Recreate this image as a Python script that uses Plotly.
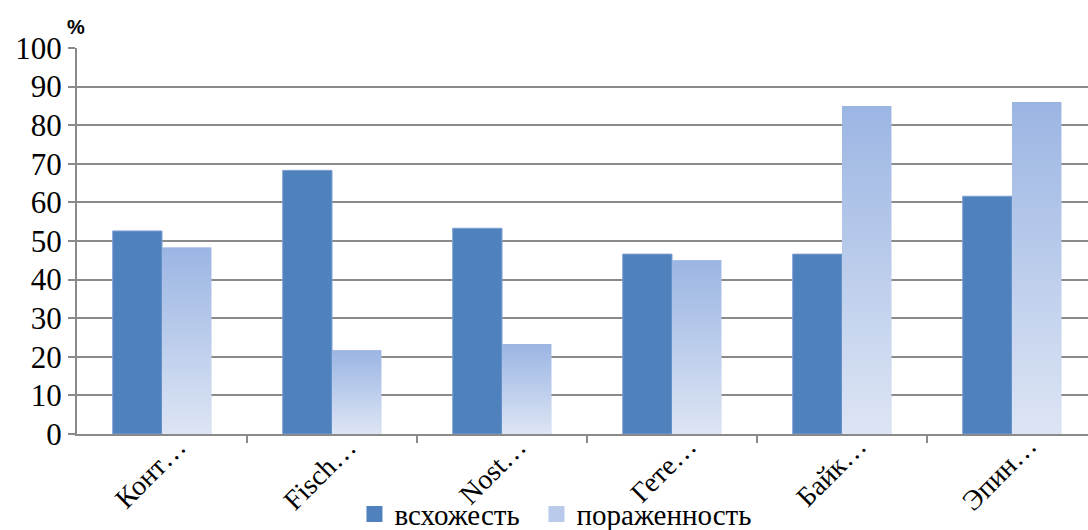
import plotly.graph_objects as go

categories = ["Конт…", "Fisch…", "Nost…", "Гете…", "Байк…", "Эпин…"]
vskhozhest = [52.6, 68.3, 53.3, 46.6, 46.6, 61.6]
porazhennost = [48.3, 21.7, 23.3, 45.0, 85.0, 86.0]
y_ticks = list(range(0, 101, 10))

BLUE = "#4F81BD"
LIGHT_TOP = "#9BB5E3"
LIGHT_BOTTOM = "#DDE5F4"
LIGHT_MID = "#B9CAEB"
GRID = "#8A8A8A"
SERIF = "Liberation Serif"

bar_w = 0.29
xs = list(range(len(categories)))

fig = go.Figure()

fig.add_trace(go.Bar(
    x=xs, y=vskhozhest, name="всхожесть", showlegend=False,
    width=bar_w, offset=-bar_w,
    marker=dict(color=BLUE, line=dict(color="#7FA0D2", width=1)),
))
fig.add_trace(go.Bar(
    x=xs, y=porazhennost, name="пораженность", showlegend=False,
    width=bar_w, offset=0,
    marker=dict(color=LIGHT_MID, line=dict(width=0)),
))

# vertical gradient fill for each bar of the second series
for i, v in enumerate(porazhennost):
    x0, x1 = xs[i], xs[i] + bar_w
    fig.add_trace(go.Scatter(
        x=[x0, x1, x1, x0, x0], y=[0, 0, v, v, 0],
        mode="lines", line=dict(width=0), fill="toself",
        fillgradient=dict(type="vertical", start=0, stop=v,
                          colorscale=[[0, LIGHT_BOTTOM], [1, LIGHT_TOP]]),
        showlegend=False, hoverinfo="skip",
    ))

# legend keys with larger square swatches, one legend box per series
for name, col, lg in [("всхожесть", BLUE, "legend"), ("пораженность", LIGHT_MID, "legend2")]:
    fig.add_trace(go.Scatter(
        x=[None], y=[None], name=name, mode="markers", legend=lg,
        marker=dict(symbol="square", size=16, color=col, line=dict(width=0)),
    ))

legend_style = dict(orientation="h", xref="container", yref="container",
                    y=0.03, xanchor="left", yanchor="middle",
                    font=dict(family=SERIF, size=29, color="black"),
                    itemsizing="trace", itemwidth=30, bgcolor="rgba(0,0,0,0)")

# rotated category labels, anchored by their upper-right corner under each group
category_labels = [
    dict(text=label, x=xi, xref="x", y=0, yref="paper",
         xanchor="right", yanchor="top", xshift=33, yshift=6,
         textangle=-45, showarrow=False,
         font=dict(family=SERIF, size=28, color="black"))
    for xi, label in zip(xs, categories)
]

fig.update_layout(
    width=1088, height=530,
    margin=dict(l=77, r=0, t=48, b=96),
    font=dict(family=SERIF, size=28, color="black"),
    plot_bgcolor="white", paper_bgcolor="white",
    barmode="overlay",
    showlegend=True,
    legend=dict(x=0.3258, **legend_style),
    legend2=dict(x=0.4931, **legend_style),
    annotations=[dict(text="<b>%</b>", xref="paper", yref="paper",
                      x=-0.001, y=1.054, xanchor="center", yanchor="middle",
                      showarrow=False,
                      font=dict(family="Liberation Sans", size=20, color="black"))]
                + category_labels,
)

fig.update_xaxes(
    range=[-0.5, -0.5 + 1011 / 170], automargin=False,
    tickmode="array", tickvals=xs, showticklabels=False,
    ticks="", showgrid=False,
    showline=True, linecolor=GRID, linewidth=2,
    minor=dict(tickmode="array", tickvals=[i + 0.5 for i in xs],
               ticks="outside", ticklen=7, tickcolor=GRID, tickwidth=2, showgrid=False),
    zeroline=False,
)
fig.update_yaxes(
    range=[0, 100], tickmode="array", tickvals=y_ticks, automargin=False,
    ticks="outside", ticklen=7, tickcolor=GRID, tickwidth=2,
    showgrid=True, gridcolor=GRID, gridwidth=2,
    showline=True, linecolor=GRID, linewidth=2,
    tickfont=dict(family=SERIF, size=31, color="black"),
    zeroline=False,
)

fig.write_html("out.html")
